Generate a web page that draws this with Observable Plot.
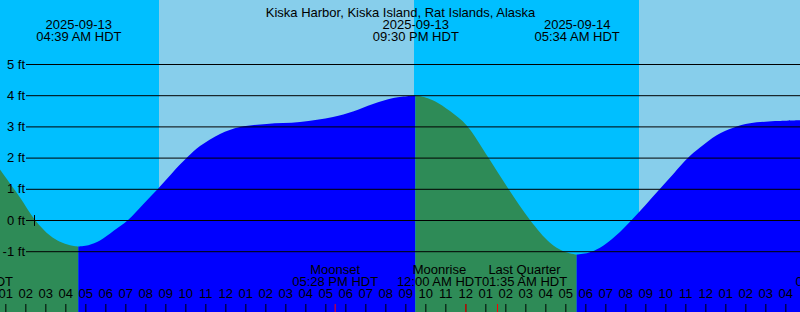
<!DOCTYPE html>
<html>
<head>
<meta charset="utf-8">
<script src="https://cdn.jsdelivr.net/npm/d3@7"></script>
<script src="https://cdn.jsdelivr.net/npm/@observablehq/plot@0.6"></script>
<style>
  html, body { margin: 0; padding: 0; background: #fff; }
  #chart svg { display: block; }
</style>
</head>
<body>
<div id="chart"></div>
<script>
// ---------- data ----------
const title = "Kiska Harbor, Kiska Island, Rat Islands, Alaska";
const viewStart = "2025-09-13T00:44";
const viewEnd = "2025-09-14T16:44";
const heightMin = -2.9487;
const heightMax = 7.0513;

// daylight periods (rest is night)
const sunrises = ["2025-09-13T08:41", "2025-09-14T08:41"];
const sunsets  = ["2025-09-13T21:26", "2025-09-14T16:44"];

// tide curve, split at the extremes (time, feet)
const fallingA = [
  ["2025-09-13T00:44", 1.62], ["2025-09-13T01:14", 1.17], ["2025-09-13T01:44", 0.72],
  ["2025-09-13T02:29", 0.00], ["2025-09-13T03:14", -0.50], ["2025-09-13T03:44", -0.70],
  ["2025-09-13T04:14", -0.81], ["2025-09-13T04:39", -0.85]
];
const risingA = [
  ["2025-09-13T04:39", -0.85], ["2025-09-13T05:09", -0.81], ["2025-09-13T05:44", -0.66],
  ["2025-09-13T06:26", -0.34], ["2025-09-13T07:08", 0.00], ["2025-09-13T07:53", 0.50],
  ["2025-09-13T08:38", 1.00], ["2025-09-13T09:20", 1.50], ["2025-09-13T10:05", 2.00],
  ["2025-09-13T10:44", 2.37], ["2025-09-13T11:44", 2.76], ["2025-09-13T12:44", 2.98],
  ["2025-09-13T14:04", 3.08], ["2025-09-13T15:44", 3.14], ["2025-09-13T17:23", 3.30],
  ["2025-09-13T18:23", 3.48], ["2025-09-13T19:23", 3.72], ["2025-09-13T20:24", 3.91],
  ["2025-09-13T21:30", 3.99]
];
const fallingB = [
  ["2025-09-13T21:30", 3.99], ["2025-09-13T22:00", 3.93], ["2025-09-13T22:30", 3.80],
  ["2025-09-13T23:14", 3.49], ["2025-09-14T00:04", 3.03], ["2025-09-14T01:09", 2.00],
  ["2025-09-14T02:09", 1.00], ["2025-09-14T03:14", 0.00], ["2025-09-14T04:14", -0.73],
  ["2025-09-14T04:54", -1.00], ["2025-09-14T05:34", -1.11]
];
const risingB = [
  ["2025-09-14T05:34", -1.11], ["2025-09-14T06:09", -1.05], ["2025-09-14T06:44", -0.89],
  ["2025-09-14T07:32", -0.50], ["2025-09-14T08:19", 0.00], ["2025-09-14T09:02", 0.50],
  ["2025-09-14T09:44", 1.00], ["2025-09-14T10:26", 1.50], ["2025-09-14T11:09", 2.00],
  ["2025-09-14T11:44", 2.32], ["2025-09-14T12:34", 2.72], ["2025-09-14T13:24", 2.96],
  ["2025-09-14T14:14", 3.10], ["2025-09-14T15:29", 3.17], ["2025-09-14T16:44", 3.20]
];

// tide extremes shown at top
const extremeTimes = ["2025-09-13T04:39", "2025-09-13T21:30", "2025-09-14T05:34"];
const extremeDates = ["2025-09-13", "2025-09-13", "2025-09-14"];
const extremeClock = ["04:39 AM HDT", "09:30 PM HDT", "05:34 AM HDT"];

// moon events shown at bottom
const eventNames  = ["Moonset", "Moonrise", "Last Quarter"];
const eventTimes  = ["2025-09-13T17:28", "2025-09-14T00:00", "2025-09-14T01:35"];
const eventClock  = ["05:28 PM HDT", "12:00 AM HDT", "01:35 AM HDT"];
const eventLabelAt = ["2025-09-13T17:28", "2025-09-13T22:41", "2025-09-14T02:56"];

// y gridlines
const feetTicks = [5, 4, 3, 2, 1, 0, -1];
const marker = [["2025-09-13T02:26", 0]];

// ---------- build ----------
const parse = d3.utcParse("%Y-%m-%dT%H:%M");
const t0 = parse(viewStart), t1 = parse(viewEnd);

const tide = [];
[[fallingA, "falling"], [risingA, "rising"], [fallingB, "falling"], [risingB, "rising"]]
  .forEach(([arr, dir], seg) => arr.forEach(([t, v]) => tide.push({time: parse(t), ft: v, dir, seg})));

const days = sunrises.map((s, i) => ({start: parse(s), end: parse(sunsets[i])}));
const nights = [{start: t0, end: parse(sunrises[0])}, {start: parse(sunsets[0]), end: parse(sunrises[1])}];

const extremes = extremeTimes.map((t, i) => ({time: parse(t), date: extremeDates[i], clock: extremeClock[i]}));
const events = eventTimes.map((t, i) => ({time: parse(t), name: eventNames[i], clock: eventClock[i], at: parse(eventLabelAt[i])}));
const hours = d3.utcHour.range(d3.utcHour.ceil(t0), t1);
const hourFmt = d3.utcFormat("%I");

const font = "'Liberation Sans', Arial, sans-serif";

const chart = Plot.plot({
  width: 800,
  height: 312,
  margin: 0,
  x: {type: "utc", domain: [t0, t1], axis: null},
  y: {domain: [heightMin, heightMax], axis: null},
  color: {domain: ["rising", "falling"], range: ["#0000ff", "#2e8b57"]},
  style: {fontFamily: font, fontSize: "13px", color: "black", background: "#87ceeb"},
  marks: [
    Plot.rect(days, {x1: "start", x2: "end", y1: heightMin, y2: heightMax, fill: "#87ceeb"}),
    Plot.rect(nights, {x1: "start", x2: "end", y1: heightMin, y2: heightMax, fill: "#00bfff"}),
    Plot.areaY(tide, {x: "time", y1: heightMin, y2: "ft", z: "seg", fill: "dir", curve: "catmull-rom"}),
    Plot.ruleY(feetTicks, {y: d => d, stroke: "black", strokeWidth: 1, insetLeft: 26}),
    Plot.text(feetTicks, {y: d => d, text: d => `${d} ft`, frameAnchor: "left", dx: 24.5, textAnchor: "end", fill: "black"}),
    Plot.dot(marker, {x: d => parse(d[0]), y: d => d[1], symbol: "plus", r: 3.6, stroke: "black", strokeWidth: 1}),
    // title + extremes
    Plot.text([title], {text: d => d, frameAnchor: "top", dy: 7.5, fill: "black"}),
    Plot.text(extremes, {x: "time", text: "date", frameAnchor: "top", dy: 19.5, fill: "black"}),
    Plot.text(extremes, {x: "time", text: "clock", frameAnchor: "top", dy: 31.5, fill: "black"}),
    // hour ticks + labels
    Plot.ruleX(hours, {x: d => d, insetTop: 304, stroke: "black"}),
    Plot.text(hours, {x: d => d, text: d => hourFmt(d), frameAnchor: "bottom", dy: -15, fill: "black"}),
    // moon events
    Plot.ruleX(events, {x: "time", insetTop: 304, stroke: "red"}),
    Plot.text(events, {x: "at", text: "name", frameAnchor: "bottom", dy: -38.5, fill: "black"}),
    Plot.text(events, {x: "at", text: "clock", frameAnchor: "bottom", dy: -26.5, fill: "black"}),
    // partial labels cut by the edges
    Plot.text(["HDT"], {text: d => d, frameAnchor: "bottom-left", dx: 12.5, dy: -26.5, textAnchor: "end", fill: "black"}),
    Plot.text(["0"], {text: d => d, frameAnchor: "bottom-right", dx: -5, dy: -26.5, textAnchor: "start", fill: "black"})
  ]
});
document.getElementById("chart").append(chart);
</script>
</body>
</html>
